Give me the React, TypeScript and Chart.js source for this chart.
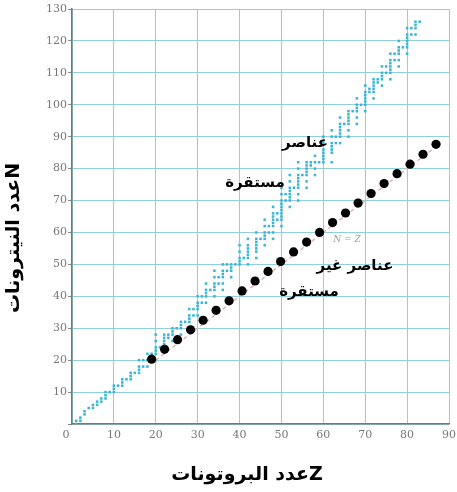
import React, { useEffect, useRef } from "react";
import { Chart, registerables } from "chart.js";

Chart.register(...registerables);

// Stable nuclides: neutron numbers N for each proton number Z (index = Z)
const stableN: number[][] = [
  [],
  [0, 1],
  [1, 2],
  [3, 4],
  [5],
  [5, 6],
  [6, 7],
  [7, 8],
  [8, 9, 10],
  [10],
  [10, 11, 12],
  [12],
  [12, 13, 14],
  [14],
  [14, 15, 16],
  [16],
  [16, 17, 18, 20],
  [18, 20],
  [18, 20, 22],
  [20, 21, 22],
  [20, 22, 23, 24, 26, 28],
  [24],
  [24, 25, 26, 27, 28],
  [27, 28],
  [26, 28, 29, 30],
  [30],
  [28, 30, 31, 32],
  [32],
  [30, 32, 33, 34, 36],
  [34, 36],
  [34, 36, 37, 38, 40],
  [38, 40],
  [38, 40, 41, 42, 44],
  [42],
  [40, 42, 43, 44, 46, 48],
  [44, 46],
  [42, 44, 46, 47, 48, 50],
  [48, 50],
  [46, 48, 49, 50],
  [50],
  [50, 51, 52, 54, 56],
  [52],
  [50, 52, 53, 54, 55, 56, 58],
  [],
  [52, 54, 55, 56, 57, 58, 60],
  [58],
  [56, 58, 59, 60, 62, 64],
  [60, 62],
  [58, 60, 62, 63, 64, 65, 66, 68],
  [64, 66],
  [62, 64, 65, 66, 67, 68, 69, 70, 72, 74],
  [70, 72],
  [68, 70, 71, 72, 73, 74, 76, 78],
  [74],
  [70, 72, 74, 75, 76, 77, 78, 80, 82],
  [78],
  [74, 76, 78, 79, 80, 81, 82],
  [81, 82],
  [78, 80, 82, 84],
  [82],
  [82, 83, 84, 85, 86, 88, 90],
  [],
  [82, 85, 86, 87, 88, 90, 92],
  [88, 90],
  [88, 90, 91, 92, 93, 94, 96],
  [94],
  [90, 92, 94, 95, 96, 97, 98],
  [98],
  [94, 96, 98, 99, 100, 102],
  [100],
  [98, 100, 101, 102, 103, 104, 106],
  [104, 105],
  [102, 104, 105, 106, 107, 108],
  [107, 108],
  [106, 108, 109, 110, 112],
  [110, 112],
  [108, 110, 111, 112, 113, 114, 116],
  [114, 116],
  [112, 114, 116, 117, 118, 120],
  [118],
  [116, 118, 119, 120, 121, 122, 124],
  [122, 124],
  [122, 124, 125, 126],
  [126],
];

// Unstable elements (black dots)
const unstableZ = [19.0, 22.1, 25.2, 28.3, 31.3, 34.4, 37.5, 40.6, 43.7, 46.8, 49.8, 52.9, 56.0, 59.1, 62.2, 65.3, 68.3, 71.4, 74.5, 77.6, 80.7, 83.8, 86.9];
const unstableN = [20.3, 23.4, 26.4, 29.5, 32.5, 35.6, 38.6, 41.7, 44.8, 47.8, 50.9, 53.9, 57.0, 60.0, 63.1, 66.1, 69.2, 72.2, 75.3, 78.4, 81.4, 84.5, 87.6];

// N = Z reference line end points
const lineZ = [20, 88];

const xTicks = [0, 10, 20, 30, 40, 50, 60, 70, 80, 90];
const yTicks = [0, 10, 20, 30, 40, 50, 60, 70, 80, 90, 100, 110, 120, 130];

const yTitle = "Nعدد النيترونات";
const xTitle = "Zعدد البروتونات";
const stableLabel = ["عناصر", "مستقرة"];
const unstableLabel = ["عناصر غير", "مستقرة"];
const lineLabel = "N = Z";

const ARABIC_FONT = '"DejaVu Sans", "Noto Sans", sans-serif';
const SERIF = '"DejaVu Serif", "Liberation Serif", serif';

export default function App() {
  const ref = useRef<HTMLCanvasElement | null>(null);

  useEffect(() => {
    document.body.style.margin = "0";
    const canvas = ref.current;
    if (!canvas) return;

    const stablePts: { x: number; y: number }[] = [];
    stableN.forEach((ns, z) => ns.forEach((n) => stablePts.push({ x: z, y: n })));
    const unstablePts = unstableZ.map((z, i) => ({ x: z, y: unstableN[i] }));
    const linePts = lineZ.map((z) => ({ x: z, y: z }));

    const textPlugin = {
      id: "texts",
      afterDraw(chart: any) {
        const ctx = chart.ctx as CanvasRenderingContext2D;
        ctx.save();
        ctx.fillStyle = "#000";
        ctx.textAlign = "center";
        ctx.textBaseline = "middle";
        (ctx as any).direction = "rtl";

        // annotations
        ctx.font = `bold 15px ${ARABIC_FONT}`;
        ctx.fillText(stableLabel[0], 305, 143);
        ctx.fillText(stableLabel[1], 255, 183);
        ctx.fillText(unstableLabel[0], 355, 266);
        ctx.fillText(unstableLabel[1], 309, 292);

        // axis titles
        ctx.font = `bold 19px ${ARABIC_FONT}`;
        ctx.fillText(xTitle, 247, 475);
        ctx.save();
        ctx.translate(14, 238);
        ctx.rotate(-Math.PI / 2);
        ctx.fillText(yTitle, 0, 0);
        ctx.restore();

        (ctx as any).direction = "ltr";
        // N = Z label
        ctx.fillStyle = "#9a9a9a";
        ctx.font = `italic 9px ${SERIF}`;
        ctx.fillText(lineLabel, 347, 240);

        // corner zero
        ctx.fillStyle = "#777";
        ctx.font = `11px ${SERIF}`;
        ctx.fillText(String(xTicks[0]), 66, 435);
        ctx.restore();
      },
    };

    const chart = new Chart(canvas, {
      type: "scatter",
      data: {
        datasets: [
          {
            label: "unstable",
            data: unstablePts,
            pointRadius: 4.6,
            pointBackgroundColor: "#000",
            pointBorderWidth: 0,
            order: 0,
          } as any,
          {
            label: "N=Z",
            type: "line",
            data: linePts,
            showLine: true,
            borderColor: "#e3b3b5",
            borderWidth: 1.5,
            borderDash: [4, 3],
            pointRadius: 0,
            fill: false,
            order: 1,
          } as any,
          {
            label: "stable",
            data: stablePts,
            pointStyle: "rect",
            pointRadius: 1.8,
            pointBackgroundColor: "#3bb5d6",
            pointBorderWidth: 0,
            order: 2,
          } as any,
        ],
      },
      options: {
        responsive: false,
        animation: false,
        layout: { padding: { top: 9, right: 5, left: 0, bottom: 0 } },
        plugins: { legend: { display: false }, tooltip: { enabled: false } },
        scales: {
          x: {
            type: "linear",
            min: xTicks[0],
            max: xTicks[xTicks.length - 1],
            afterFit: (s: any) => {
              s.height = 68;
            },
            afterBuildTicks: (s: any) => {
              s.ticks = xTicks.map((v) => ({ value: v }));
            },
            ticks: {
              color: "#777",
              font: { family: SERIF, size: 11 },
              padding: 1,
              maxRotation: 0,
              callback: (v: any) => (v === 0 ? "" : String(v)),
            },
            grid: {
              color: "#8fd0dc",
              lineWidth: 1,
              tickLength: 4,
              tickColor: "rgba(0,0,0,0)",
            },
            border: { display: true, color: "#777", width: 1.5 },
          },
          y: {
            type: "linear",
            min: yTicks[0],
            max: yTicks[yTicks.length - 1],
            afterFit: (s: any) => {
              s.width = 72;
            },
            afterBuildTicks: (s: any) => {
              s.ticks = yTicks.map((v) => ({ value: v }));
            },
            ticks: {
              color: "#777",
              font: { family: SERIF, size: 11 },
              padding: 1,
              callback: (v: any) => (v === 0 ? "" : String(v)),
            },
            grid: {
              color: "#8fd0dc",
              lineWidth: 1,
              tickLength: 4,
              tickColor: "#888",
            },
            border: { display: true, color: "#777", width: 1.5 },
          },
        },
      },
      plugins: [textPlugin],
    } as any);

    return () => chart.destroy();
  }, []);

  return (
    <div style={{ width: 457, height: 492, position: "relative", background: "#fff" }}>
      <canvas ref={ref} width={457} height={492} style={{ width: 457, height: 492, display: "block" }} />
    </div>
  );
}
